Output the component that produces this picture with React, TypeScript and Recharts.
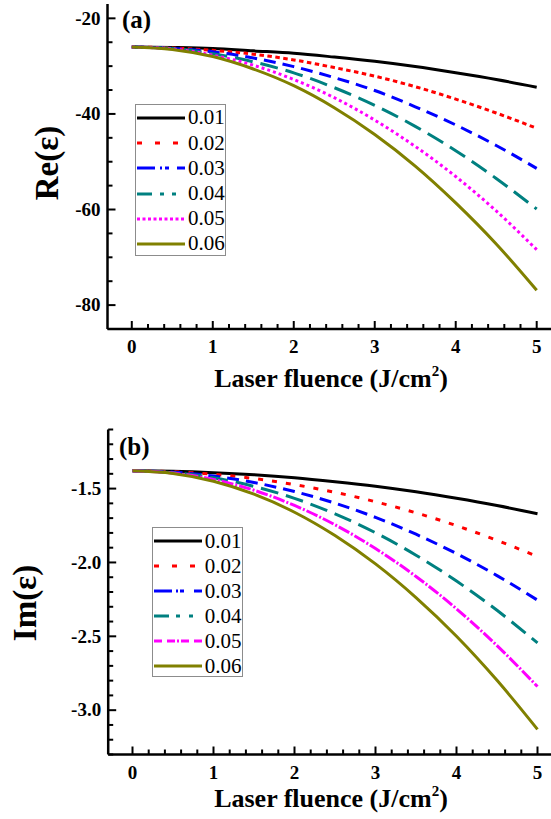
import React from 'react';
import { LineChart, Line, XAxis, YAxis, Legend } from 'recharts';

// ---------- data ----------
const fluence = [0, 0.5, 1, 1.5, 2, 2.5, 3, 3.5, 4, 4.5, 5];
const seriesNames = ['0.01', '0.02', '0.03', '0.04', '0.05', '0.06'];

// Re(eps)
const re001 = [-26.0, -26.1, -26.3, -26.8, -27.3, -28.1, -29.0, -30.1, -31.4, -32.8, -34.4];
const re002 = [-26.0, -26.2, -26.7, -27.5, -28.7, -30.3, -32.1, -34.3, -36.9, -39.8, -43.0];
const re003 = [-26.0, -26.3, -27.0, -28.3, -30.1, -32.4, -35.1, -38.5, -42.3, -46.6, -51.4];
const re004 = [-26.0, -26.3, -27.4, -29.1, -31.4, -34.5, -38.2, -42.6, -47.7, -53.5, -59.9];
const re005 = [-26.0, -26.4, -27.7, -29.8, -32.8, -36.6, -41.3, -46.8, -53.1, -60.3, -68.4];
const re006 = [-26.0, -26.5, -28.0, -30.6, -34.1, -38.7, -44.3, -50.9, -58.6, -67.2, -76.9];

// Im(eps)
const im001 = [-1.380, -1.383, -1.392, -1.406, -1.426, -1.453, -1.484, -1.522, -1.566, -1.615, -1.670];
const im002 = [-1.380, -1.386, -1.403, -1.432, -1.473, -1.525, -1.589, -1.664, -1.751, -1.850, -1.960];
const im003 = [-1.380, -1.389, -1.415, -1.459, -1.520, -1.599, -1.695, -1.809, -1.940, -2.089, -2.255];
const im004 = [-1.380, -1.392, -1.427, -1.485, -1.566, -1.671, -1.799, -1.951, -2.126, -2.324, -2.545];
const im005 = [-1.380, -1.395, -1.438, -1.511, -1.614, -1.745, -1.906, -2.095, -2.314, -2.563, -2.840];
const im006 = [-1.380, -1.398, -1.450, -1.538, -1.660, -1.818, -2.010, -2.238, -2.500, -2.798, -3.130];

// ticks
const xTicks = [0, 0.2, 0.4, 0.6, 0.8, 1, 1.2, 1.4, 1.6, 1.8, 2, 2.2, 2.4, 2.6, 2.8, 3, 3.2, 3.4, 3.6, 3.8, 4, 4.2, 4.4, 4.6, 4.8, 5];
const xMajor = [0, 1, 2, 3, 4, 5];
const reTicks = [-85, -80, -75, -70, -65, -60, -55, -50, -45, -40, -35, -30, -25, -20];
const reMajor = [-80, -60, -40, -20];
const imTicks = [-3.3, -3.2, -3.1, -3.0, -2.9, -2.8, -2.7, -2.6, -2.5, -2.4, -2.3, -2.2, -2.1, -2.0, -1.9, -1.8, -1.7, -1.6, -1.5, -1.4, -1.3, -1.2, -1.1];
const imMajor = [-3.0, -2.5, -2.0, -1.5];

// ---------- styles ----------
const colors = ['#000000', '#ff0000', '#0000ff', '#008080', '#ff00ff', '#808000'];
const reDash = ['', '4.5 3.5', '12 7', '18 8', '3 3', ''];
const imDash = ['', '5 9', '12 7', '18 8', '12 2 2 2', ''];
const reLegendDash = ['', '5 13', '18 5 2 3 4 8', '15 8 4 8 4 9', '3 2.5', ''];
const imLegendDash = ['', '5 13', '18 4 2 2 4 10', '15 7 4 9 4 9', '8 5 8 2 2 2', ''];

const reData = fluence.map((x, i) => ({
  x, s0: re001[i], s1: re002[i], s2: re003[i], s3: re004[i], s4: re005[i], s5: re006[i],
}));
const imData = fluence.map((x, i) => ({
  x, s0: im001[i], s1: im002[i], s2: im003[i], s3: im004[i], s4: im005[i], s5: im006[i],
}));

const SERIF = "'Liberation Serif', 'Times New Roman', serif";

const isIn = (v: number, arr: number[]) => arr.some((m) => Math.abs(m - v) < 1e-6);

const makeXTick = (labelDy: number) => (props: any) => {
  const { x, y, payload } = props;
  const major = isIn(payload.value, xMajor);
  return (
    <g>
      <line x1={x} x2={x} y1={y} y2={y - (major ? 8 : 5)} stroke="#000" strokeWidth={2} />
      {major && (
        <text x={x} y={y + labelDy} textAnchor="middle" fontFamily={SERIF} fontWeight="bold" fontSize={19} fill="#000">
          {payload.value}
        </text>
      )}
    </g>
  );
};

const makeYTick = (majors: number[], fmt: (v: number) => string) => (props: any) => {
  const { x, y, payload } = props;
  const major = isIn(payload.value, majors);
  return (
    <g>
      <line x1={x} x2={x + (major ? 8 : 5)} y1={y} y2={y} stroke="#000" strokeWidth={2} />
      {major && (
        <text x={x - 7} y={y + 6.3} textAnchor="end" fontFamily={SERIF} fontWeight="bold" fontSize={19} fill="#000">
          {fmt(payload.value)}
        </text>
      )}
    </g>
  );
};

const LegendBox = ({ dashes, height, rowH, padTop }: { dashes: string[]; height: number; rowH: number; padTop: number }) => (
  <div
    style={{
      width: 91,
      height,
      boxSizing: 'border-box',
      border: '1px solid #8c8c8c',
      background: '#fff',
      paddingTop: padTop,
      paddingLeft: 1,
    }}
  >
    {seriesNames.map((n, i) => (
      <div key={n} style={{ display: 'flex', alignItems: 'center', height: rowH }}>
        <svg width={48} height={8} style={{ display: 'block' }}>
          <line x1={0} y1={4} x2={48} y2={4} stroke={colors[i]} strokeWidth={3} strokeDasharray={dashes[i] || undefined} />
        </svg>
        <span style={{ marginLeft: 3, fontFamily: SERIF, fontSize: 21, lineHeight: '21px', color: '#000' }}>{n}</span>
      </div>
    ))}
  </div>
);

const XTitle = ({ y }: { y: number }) => (
  <text x={331} y={y} textAnchor="middle" fontFamily={SERIF} fontWeight="bold" fontSize={26} fill="#000">
    <tspan>Laser fluence (J/cm</tspan>
    <tspan dy={-11} fontSize={15}>2</tspan>
    <tspan dy={11}>)</tspan>
  </text>
);

const YTitle = ({ x, y, text }: { x: number; y: number; text: string }) => (
  <text x={x} y={y} transform={`rotate(-90 ${x} ${y})`} textAnchor="middle" fontFamily={SERIF} fontWeight="bold" fontSize={33} fill="#000">
    {text}
  </text>
);

const PanelLabel = ({ x, y, text }: { x: number; y: number; text: string }) => (
  <text x={x} y={y} fontFamily={SERIF} fontWeight="bold" fontSize={25} fill="#000">
    {text}
  </text>
);

const axisLine = { stroke: '#000', strokeWidth: 2.5 };

export default function App() {
  return (
    <div style={{ position: 'absolute', left: 0, top: 0, width: 600, height: 819, background: '#fff' }}>
      {/* Panel (a) */}
      <div style={{ position: 'absolute', left: 0, top: 0 }}>
        <LineChart width={600} height={410} data={reData} margin={{ top: 4, right: 39, bottom: 0, left: 0 }}>
          <XAxis
            dataKey="x"
            type="number"
            domain={[-0.3, 5.3]}
            ticks={xTicks}
            interval={0}
            height={81}
            tickSize={0}
            tickMargin={0}
            tickLine={false}
            axisLine={axisLine}
            tick={makeXTick(24)}
            allowDataOverflow
          />
          <XAxis xAxisId="top" orientation="top" type="number" domain={[-0.3, 5.3]} height={0} tick={false} tickLine={false} axisLine={axisLine} />
          <YAxis
            type="number"
            domain={[-85, -17]}
            ticks={reTicks}
            interval={0}
            width={107.5}
            tickSize={0}
            tickMargin={0}
            tickLine={false}
            axisLine={axisLine}
            tick={makeYTick(reMajor, (v) => String(v))}
            allowDataOverflow
          />
          <YAxis yAxisId="right" orientation="right" type="number" domain={[-85, -17]} width={0} tick={false} tickLine={false} axisLine={axisLine} />
          {seriesNames.map((n, i) => (
            <Line
              key={n}
              name={n}
              dataKey={`s${i}`}
              type="monotone"
              stroke={colors[i]}
              strokeWidth={3}
              strokeDasharray={reDash[i] || undefined}
              dot={false}
              activeDot={false}
              isAnimationActive={false}
            />
          ))}
          <Legend
            layout="vertical"
            align="center"
            verticalAlign="middle"
            wrapperStyle={{ position: 'absolute', left: 135, top: 104, width: 91, height: 152 }}
            content={() => <LegendBox dashes={reLegendDash} height={152} rowH={25.2} padTop={0.4} />}
          />
          <XTitle y={387} />
          <YTitle x={58} y={163} text="Re(ε)" />
          <PanelLabel x={122} y={28} text="(a)" />
        </LineChart>
      </div>

      {/* Panel (b) */}
      <div style={{ position: 'absolute', left: 0, top: 410 }}>
        <LineChart width={600} height={409} data={imData} margin={{ top: 19.5, right: 38.2, bottom: 0, left: 0 }}>
          <XAxis
            dataKey="x"
            type="number"
            domain={[-0.3, 5.3]}
            ticks={xTicks}
            interval={0}
            height={64.5}
            tickSize={0}
            tickMargin={0}
            tickLine={false}
            axisLine={axisLine}
            tick={makeXTick(24)}
            allowDataOverflow
          />
          <XAxis xAxisId="top" orientation="top" type="number" domain={[-0.3, 5.3]} height={0} tick={false} tickLine={false} axisLine={axisLine} />
          <YAxis
            type="number"
            domain={[-3.3, -1.1]}
            ticks={imTicks}
            interval={0}
            width={108.2}
            tickSize={0}
            tickMargin={0}
            tickLine={false}
            axisLine={axisLine}
            tick={makeYTick(imMajor, (v) => v.toFixed(1))}
            allowDataOverflow
          />
          <YAxis yAxisId="right" orientation="right" type="number" domain={[-3.3, -1.1]} width={0} tick={false} tickLine={false} axisLine={axisLine} />
          {seriesNames.map((n, i) => (
            <Line
              key={n}
              name={n}
              dataKey={`s${i}`}
              type="monotone"
              stroke={colors[i]}
              strokeWidth={3}
              strokeDasharray={imDash[i] || undefined}
              dot={false}
              activeDot={false}
              isAnimationActive={false}
            />
          ))}
          <Legend
            layout="vertical"
            align="center"
            verticalAlign="middle"
            wrapperStyle={{ position: 'absolute', left: 151.8, top: 117, width: 91, height: 150 }}
            content={() => <LegendBox dashes={imLegendDash} height={150} rowH={25} padTop={0.5} />}
          />
          <XTitle y={397} />
          <YTitle x={36} y={193} text="Im(ε)" />
          <PanelLabel x={119} y={44.5} text="(b)" />
        </LineChart>
      </div>
    </div>
  );
}
